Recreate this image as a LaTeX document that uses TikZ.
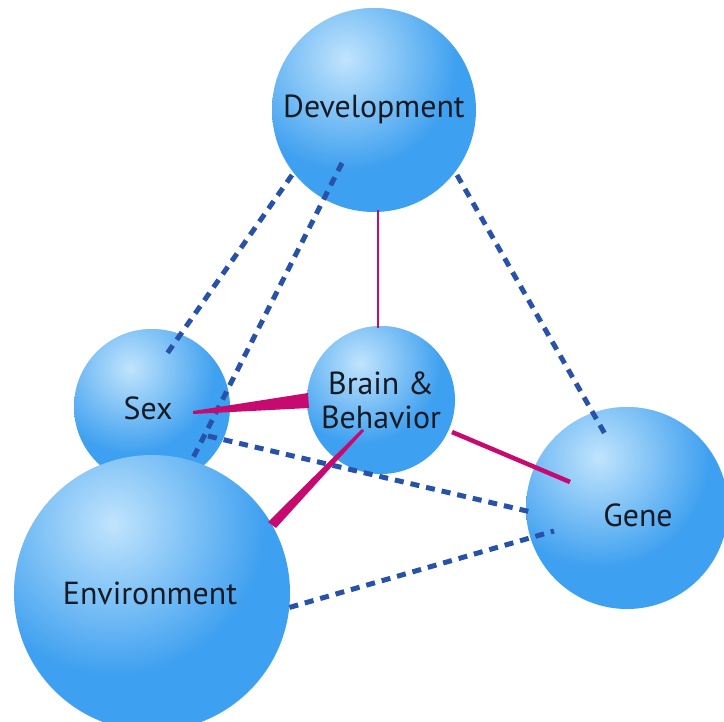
\documentclass[tikz,border=0pt]{standalone}
\usepackage{fontspec}
\setmainfont{PT Sans}
\usetikzlibrary{fadings,calc}

\definecolor{sphMid}{RGB}{62,160,240}
\definecolor{sphRim}{RGB}{34,128,218}
\definecolor{sphHi}{RGB}{200,232,254}
\definecolor{linkBlue}{RGB}{40,82,168}
\definecolor{linkPink}{RGB}{198,10,112}
\definecolor{labelInk}{RGB}{22,26,36}

% body of a sphere: flat blue with a slightly darker rim
\pgfdeclareradialshading{spherebody}{\pgfpoint{0bp}{0bp}}{%
  color(0bp)=(sphMid); color(34bp)=(sphMid);
  color(46bp)=(sphRim!60!sphMid); color(50bp)=(sphRim)}
% soft specular spot
\tikzfading[name=glow, inner color=transparent!0, outer color=transparent!100]

\tikzset{
  ball/.style={circle, inner sep=0pt, minimum size=#1, shade, shading=spherebody},
  label/.style={text=labelInk, font=\fontsize{32}{34}\selectfont, align=center},
  weak/.style={draw=linkBlue, line width=5bp, dash pattern=on 9bp off 7bp},
  strong/.style={fill=linkPink},
}

% sphere: name, centre, radius
\newcommand\orb[4]{%
  \node[ball=#4*2bp] (#1) at (#2,#3) {};
  \begin{scope}
    \clip (#1) circle (#4);
    \fill[sphHi, path fading=glow, fill opacity=0.95]
      ($(#1)+(-0.28*#4,-0.5*#4)$) circle (1.1*#4);
  \end{scope}}

\begin{document}
\begin{tikzpicture}[x=1bp,y=-1bp]
  \useasboundingbox (0,0) rectangle (724,722);
  \clip (0,0) rectangle (724,722);

  % spheres behind the links
  \orb{dev}{374}{110}{102}
  \orb{sex}{152}{407}{78}
  \orb{brain}{381}{400}{74}
  \orb{gene}{627}{508}{101}

  % dashed links
  \coordinate (d1a) at ($(dev)+(-82,65)$);  \coordinate (d1b) at ($(sex)+(12,-49)$);
  \coordinate (d2a) at ($(dev)+(-32,53)$);  \coordinate (d2b) at ($(sex)+(39,55)$);
  \coordinate (d3a) at ($(dev)+(83,65)$);   \coordinate (d3b) at ($(gene)+(-22,-74)$);
  \coordinate (d4a) at ($(sex)+(56,29)$);   \coordinate (d4b) at ($(gene)+(-96,4)$);
  \coordinate (d5a) at ($(gene)+(-73,23)$);
  \draw[weak] (d1a) -- (d1b);
  \draw[weak] (d2a) -- (d2b);
  \draw[weak] (d3a) -- (d3b);
  \draw[weak] (d4a) -- (d4b);

  % solid links to Brain & Behavior
  \draw[draw=linkPink, line width=1.6bp] ($(dev)+(4,100)$) -- ($(brain)+(-3,-72)$);
  \fill[strong] ($(sex)+(41,4)$) -- ($(brain)+(-73,-7)$) -- ($(brain)+(-72,8)$)
    -- ($(sex)+(41,7)$) -- cycle;
  \coordinate (p3a) at ($(brain)+(-17,31)$);
  \coordinate (p3b) at ($(brain)+(-19,29)$);
  \draw[draw=linkPink, line width=4.5bp] ($(brain)+(71,32)$) -- ($(gene)+(-57,-26)$);

  % front sphere
  \orb{env}{152}{593}{138}

  % links that end on the front sphere's rim
  \fill[strong] (p3a) -- ($(env)+(124,-65)$) -- ($(env)+(116,-71)$) -- (p3b) -- cycle;
  \draw[weak] (env.-6) -- (d5a);

  % labels
  \node[label] at (374,109) {Development};
  \node[label] at (148,408) {Sex};
  \node[label] at (381,400) {Brain \&\\Behavior};
  \node[label] at (638,515) {Gene};
  \node[label] at (150,593) {Environment};
\end{tikzpicture}
\end{document}
